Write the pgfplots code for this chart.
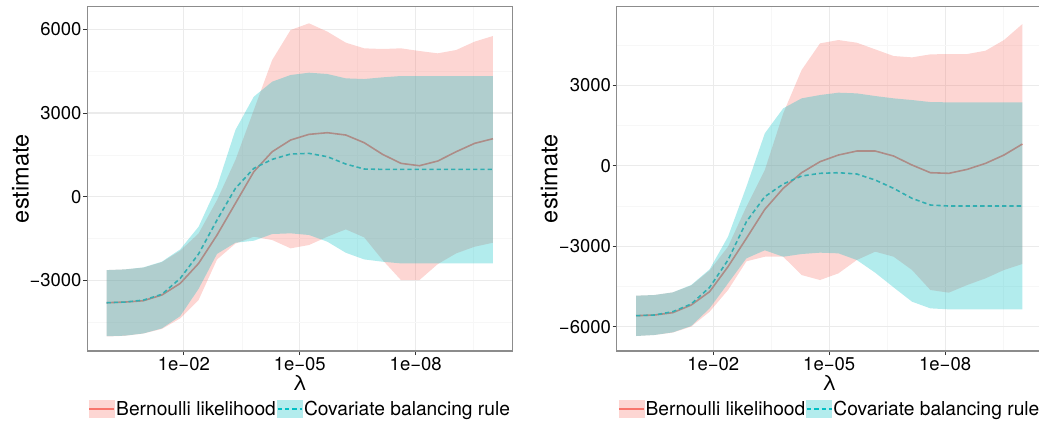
\documentclass[border=0pt]{standalone}
\usepackage{fontspec}
\setmainfont{TeX Gyre Heros}
\usepackage{pgfplots}
\pgfplotsset{compat=1.18}
\usepackage{pgfplotstable}

\definecolor{bern}{HTML}{F8766D}
\definecolor{cbr}{HTML}{00BFC4}
\definecolor{bernkey}{HTML}{FDD6D3}
\definecolor{cbrkey}{HTML}{B3ECED}
\definecolor{gridmaj}{HTML}{EBEBEB}
\definecolor{gridmin}{HTML}{F7F7F7}
\definecolor{frame}{HTML}{8C8C8C}

% u = -log10(lambda); mean estimate along the lambda path
\pgfplotstableread{
u       bm     cm
0.0000  -3800  -3800
0.4762  -3776  -3776
0.9524  -3728  -3705
1.4286  -3525  -3500
1.9048  -3107  -2928
2.3810  -2390  -2050
2.8571  -1374   -836
3.3333   -239    299
3.8095    896   1016
4.2857   1613   1338
4.7619   2032   1530
5.2381   2235   1553
5.7143   2294   1434
6.1905   2211   1171
6.6667   1936    992
7.1429   1518    980
7.6190   1195    980
8.0952   1111    980
8.5714   1279    980
9.0476   1613    980
9.5238   1912    980
10.0000  2079    980
}\meanL

\pgfplotstableread{
u       bm     cm
0.0000  -5585  -5585
0.4762  -5560  -5560
0.9524  -5473  -5436
1.4286  -5187  -5150
1.9048  -4691  -4530
2.3810  -3760  -3512
2.8571  -2705  -2085
3.3333  -1626  -1154
3.8095   -844   -683
4.2857   -261   -385
4.7619    149   -285
5.2381    397   -261
5.7143    546   -310
6.1905    546   -534
6.6667    360   -844
7.1429     25  -1216
7.6190   -261  -1464
8.0952   -285  -1502
8.5714   -137  -1502
9.0476     87  -1502
9.5238    397  -1502
10.0000   807  -1502
}\meanR

% confidence bands: upper limit left to right, then lower limit right to left
\pgfplotstableread{
u y
0.0000 -2630
0.4762 -2605
0.9524 -2540
1.4286 -2345
1.9048 -1935
2.3810 -1315
2.8571 -120
3.3333 1315
3.8095 3107
4.2857 4900
4.7619 5975
5.2381 6214
5.7143 5915
6.1905 5521
6.6667 5318
7.1429 5294
7.6190 5318
8.0952 5222
8.5714 5139
9.0476 5258
9.5238 5557
10.0000 5760
10.0000 -1649
9.5238 -1793
9.0476 -2031
8.5714 -2414
8.0952 -2988
7.6190 -2988
7.1429 -2270
6.6667 -1458
6.1905 -1171
5.7143 -1434
5.2381 -1731
4.7619 -1850
4.2857 -1552
3.8095 -1434
3.3333 -1680
2.8571 -2250
2.3810 -3700
1.9048 -4360
1.4286 -4740
0.9524 -4905
0.4762 -4985
0.0000 -5010
}\bandBL

\pgfplotstableread{
u y
0.0000 -2630
0.4762 -2605
0.9524 -2533
1.4286 -2330
1.9048 -1888
2.3810 -1075
2.8571 359
3.3333 2390
3.8095 3585
4.2857 4123
4.7619 4362
5.2381 4445
5.7143 4398
6.1905 4242
6.6667 4218
7.1429 4278
7.6190 4326
8.0952 4326
8.5714 4326
9.0476 4326
9.5238 4326
10.0000 4326
10.0000 -2390
9.5238 -2390
9.0476 -2390
8.5714 -2390
8.0952 -2390
7.6190 -2390
7.1429 -2330
6.6667 -2247
6.1905 -2008
5.7143 -1613
5.2381 -1372
4.7619 -1313
4.2857 -1337
3.8095 -1577
3.3333 -1650
2.8571 -2050
2.3810 -3300
1.9048 -4280
1.4286 -4720
0.9524 -4900
0.4762 -4980
0.0000 -5000
}\bandCL

\pgfplotstableread{
u y
0.0000 -4840
0.4762 -4815
0.9524 -4716
1.4286 -4460
1.9048 -3900
2.3810 -3016
2.8571 -1526
3.3333 -161
3.8095 1948
4.2857 3562
4.7619 4554
5.2381 4678
5.7143 4579
6.1905 4331
6.6667 4083
7.1429 4033
7.6190 4145
8.0952 4157
8.5714 4157
9.0476 4281
9.5238 4678
10.0000 5274
10.0000 -3661
9.5238 -3884
9.0476 -4195
8.5714 -4443
8.0952 -4728
7.6190 -4629
7.1429 -3884
6.6667 -3388
6.1905 -3202
5.7143 -3512
5.2381 -4009
4.7619 -4257
4.2857 -4071
3.8095 -3390
3.3333 -3390
2.8571 -3560
2.3810 -4629
1.9048 -5436
1.4286 -5990
0.9524 -6215
0.4762 -6304
0.0000 -6342
}\bandBR

\pgfplotstableread{
u y
0.0000 -4840
0.4762 -4815
0.9524 -4716
1.4286 -4443
1.9048 -3860
2.3810 -2643
2.8571 -782
3.3333 1204
3.8095 2135
4.2857 2507
4.7619 2631
5.2381 2718
5.7143 2693
6.1905 2594
6.6667 2507
7.1429 2445
7.6190 2370
8.0952 2358
8.5714 2358
9.0476 2358
9.5238 2358
10.0000 2358
10.0000 -5349
9.5238 -5349
9.0476 -5349
8.5714 -5349
8.0952 -5349
7.6190 -5312
7.1429 -5063
6.6667 -4530
6.1905 -3984
5.7143 -3512
5.2381 -3264
4.7619 -3239
4.2857 -3289
3.8095 -3390
3.3333 -3150
2.8571 -3450
2.3810 -4381
1.9048 -5312
1.4286 -5969
0.9524 -6205
0.4762 -6304
0.0000 -6342
}\bandCR

\pgfplotsset{
  panel/.style={
    scale only axis, width=425pt, height=344.3pt,
    xmin=-0.5, xmax=10.5,
    xtick={2,5,8}, xticklabels={1e−02,1e−05,1e−08},
    minor xtick={3.5,6.5,9.5},
    minor ytick={-4500,-1500,1500,4500},
    grid=both,
    major grid style={gridmaj, line width=1.1pt},
    minor grid style={gridmin, line width=0.6pt},
    axis line style={frame, line width=1.1pt},
    tick pos=left, tick align=outside,
    major tick length=4pt, minor tick length=0pt,
    tick style={black!80, line width=0.8pt},
    ticklabel style={font=\fontsize{18.5}{20}\selectfont, text=black, inner sep=0pt},
    xticklabel style={anchor=north, yshift=-2pt},
    yticklabel style={anchor=east, xshift=-1.6pt},
    xlabel={λ},
    xlabel style={at={(axis description cs:0.5,-0.093)}, anchor=center,
      font=\fontsize{21}{24}\selectfont},
    ylabel={estimate},
    ylabel style={anchor=center, font=\fontsize{23.5}{26}\selectfont},
    legend columns=2,
    legend cell align=left,
    legend style={at={(axis description cs:0.5,-0.168)}, anchor=center,
      draw=none, fill=none, inner sep=0pt,
      font=\fontsize{19.2}{21}\selectfont,
      nodes={inner xsep=1pt, inner ysep=0pt}},
  },
  bline/.style={bern, line width=1.6pt, forget plot},
  cline/.style={cbr, line width=1.6pt, dash pattern=on 4.3pt off 3pt, forget plot},
  bband/.style={fill=bern, fill opacity=0.3, draw=none, forget plot},
  cband/.style={fill=cbr, fill opacity=0.3, draw=none, forget plot},
}

\newcommand\keys{%
  \addlegendimage{legend image code/.code={
    \fill[bernkey] (0pt,-8.65pt) rectangle (25pt,8.65pt);
    \draw[bern, line width=1.6pt] (0pt,0pt) -- (25pt,0pt);}}
  \addlegendentry{Bernoulli likelihood}
  \addlegendimage{legend image code/.code={
    \fill[cbrkey] (0pt,-8.65pt) rectangle (25pt,8.65pt);
    \draw[cbr, line width=1.6pt, dash pattern=on 4.3pt off 3pt] (0.5pt,0pt) -- (25pt,0pt);}}
  \addlegendentry{Covariate balancing rule}
}

\begin{document}
\begin{tikzpicture}
\begin{axis}[panel, at={(87.3pt,-351pt)}, anchor=south west,
  ymin=-5530, ymax=6810,
  ytick={-3000,0,3000,6000}, yticklabels={−3000,0,3000,6000},
  ylabel style={at={(axis description cs:-0.157,0.5)}}]
  \addplot[bline] table[x=u, y=bm] {\meanL};
  \addplot[cline] table[x=u, y=cm] {\meanL};
  \addplot[bband] table[x=u, y=y] {\bandBL};
  \addplot[cband] table[x=u, y=y] {\bandCL};
  \keys
\end{axis}
\begin{axis}[panel, at={(616.7pt,-351pt)}, anchor=south west,
  ymin=-6900, ymax=5920,
  ytick={-6000,-3000,0,3000}, yticklabels={−6000,−3000,0,3000},
  ylabel style={at={(axis description cs:-0.159,0.5)}}]
  \addplot[bline] table[x=u, y=bm] {\meanR};
  \addplot[cline] table[x=u, y=cm] {\meanR};
  \addplot[bband] table[x=u, y=y] {\bandBR};
  \addplot[cband] table[x=u, y=y] {\bandCR};
  \keys
\end{axis}
\pgfresetboundingbox
\path (0pt,0pt) rectangle (1039pt,-423pt);
\end{tikzpicture}
\end{document}
